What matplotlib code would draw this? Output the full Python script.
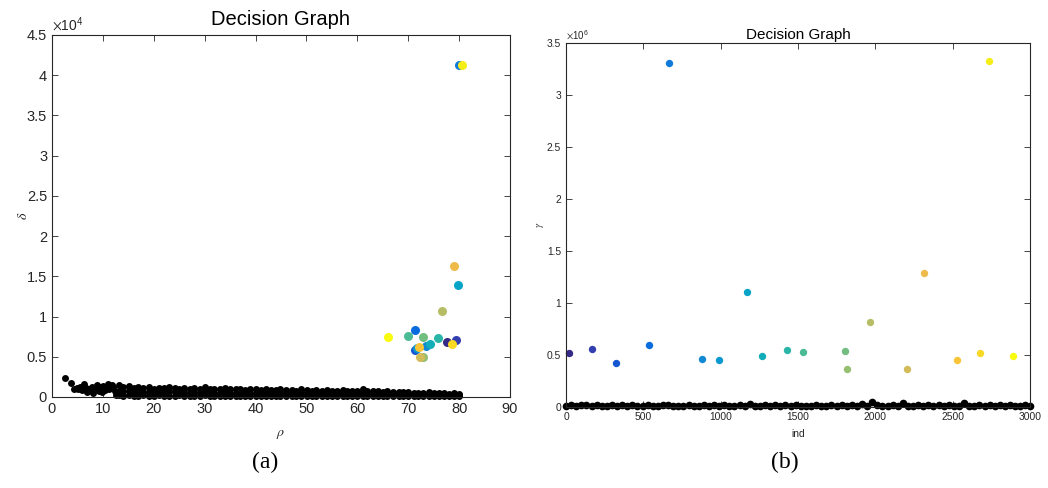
import numpy as np
import matplotlib
matplotlib.use("Agg")
from matplotlib import pyplot as plt
from matplotlib.colors import LinearSegmentedColormap

plt.rcParams['font.family'] = ['Liberation Sans', 'DejaVu Sans']
plt.rcParams['mathtext.fontset'] = 'stix'

# cluster centres, in cluster order (same order in both panels)
rho_c = [77.6, 79.4, 71.3, 71.4, 80.0, 73.5, 71.7, 79.8, 74.3, 75.8,
         70.0, 72.9, 72.9, 76.6, 72.3, 79.0, 72.2, 78.6, 80.5, 66.0]
delta_c = [6800, 7050, 5890, 8330, 41250, 6380, 6150, 13890, 6540, 7330,
           7590, 7460, 4980, 10660, 4980, 16330, 6220, 6590, 41250, 7460]
ind_c = [17, 168, 325, 535, 668, 881, 989, 1170, 1269, 1427,
         1530, 1802, 1815, 1966, 2207, 2313, 2530, 2677, 2735, 2890]
gamma_c = [0.522e6, 0.555e6, 0.42e6, 0.593e6, 3.31e6, 0.465e6, 0.449e6, 1.106e6, 0.487e6, 0.551e6,
           0.529e6, 0.541e6, 0.362e6, 0.814e6, 0.362e6, 1.288e6, 0.449e6, 0.516e6, 3.324e6, 0.49e6]

# non-centre points, left panel: sparse head
rho_sp = [2.5, 3.8, 4.3, 4.9, 5.5, 5.9, 6.2, 6.9, 7.2, 7.8,
          8.3, 8.8, 9.2, 9.6, 10.1, 10.5, 11.0, 11.4, 11.8, 12.3,
          12.6, 5.2, 6.6, 8.1, 9.9, 11.2, 12.0]
delta_sp = [2300, 1800, 1000, 1150, 1300, 900, 1600, 650, 1000, 1200,
            1100, 1500, 800, 1200, 1350, 900, 1650, 1200, 1550, 700,
            200, 950, 1100, 500, 600, 1000, 1300]

# dense band, left panel
rho_bg = [13.1, 14.0, 15.2, 16.1, 17.0, 17.9, 19.1, 20.0, 21.1, 22.0,
          23.0, 24.1, 25.0, 25.9, 27.1, 28.0, 29.0, 30.1, 31.0, 31.9,
          33.1, 34.0, 35.0, 36.1, 37.0, 37.9, 39.0, 40.1, 41.0, 42.0,
          43.1, 44.0, 44.9, 46.0, 47.1, 48.0, 49.0, 50.1, 51.0, 51.9,
          53.0, 54.1, 55.0, 56.0, 57.1, 58.0, 58.9, 60.0, 61.1, 62.0,
          63.0, 64.1, 65.0, 65.9, 67.0, 68.1, 69.0, 70.0, 71.1, 72.0,
          72.9, 74.0, 75.1, 76.0, 77.0, 78.1, 79.0, 80.0]
delta_hi = [1450, 1300, 1350, 1150, 1200, 1100, 1250, 1050, 1150, 1100,
            1300, 1150, 1050, 1100, 1000, 1150, 1000, 1200, 1050, 950,
            1000, 1100, 950, 1000, 1050, 900, 950, 1000, 900, 950,
            850, 900, 950, 850, 900, 800, 1000, 850, 800, 900,
            800, 850, 750, 800, 850, 750, 800, 700, 1000, 750,
            700, 750, 650, 700, 650, 600, 650, 600, 550, 550,
            550, 600, 500, 450, 500, 400, 450, 400]
delta_mid = [800, 700, 750, 650, 700, 600, 650, 600, 650, 550,
             700, 600, 550, 600, 550, 650, 500, 600, 550, 500,
             550, 600, 500, 550, 550, 500, 500, 550, 450, 500,
             450, 500, 500, 450, 500, 450, 500, 450, 400, 450,
             400, 450, 400, 450, 400, 400, 450, 350, 450, 400,
             350, 400, 350, 350, 350, 300, 350, 300, 300, 300,
             300, 300, 250, 250, 250, 250, 250, 200]
delta_lo = [200, 150, 250, 150, 150, 200, 150, 150, 200, 150,
            150, 150, 200, 150, 150, 150, 150, 200, 150, 150,
            150, 150, 150, 150, 150, 150, 150, 150, 150, 150,
            150, 150, 150, 150, 150, 150, 150, 150, 150, 150,
            150, 150, 150, 150, 150, 150, 150, 150, 150, 150,
            150, 150, 120, 150, 150, 120, 150, 120, 150, 120,
            120, 150, 120, 120, 150, 120, 120, 150]

# non-centre points, right panel
ind_bg = [0, 33, 66, 99, 132, 165, 198, 231, 264, 297,
          330, 363, 396, 429, 462, 495, 528, 561, 594, 627,
          660, 693, 726, 759, 792, 825, 858, 891, 924, 957,
          990, 1023, 1056, 1089, 1122, 1155, 1188, 1221, 1254, 1287,
          1320, 1353, 1386, 1419, 1452, 1485, 1518, 1551, 1584, 1617,
          1650, 1683, 1716, 1749, 1782, 1815, 1848, 1881, 1914, 1947,
          1980, 2013, 2046, 2079, 2112, 2145, 2178, 2211, 2244, 2277,
          2310, 2343, 2376, 2409, 2442, 2475, 2508, 2541, 2574, 2607,
          2640, 2673, 2706, 2739, 2772, 2805, 2838, 2871, 2904, 2937,
          2970, 3000]
gamma_bg = [12000, 20000, 9000, 15000, 22000, 10000, 18000, 8000, 14000, 20000,
            11000, 17000, 9000, 21000, 13000, 10000, 19000, 12000, 8000, 16000,
            22000, 11000, 14000, 9000, 18000, 13000, 10000, 20000, 12000, 15000,
            9000, 17000, 11000, 14000, 21000, 10000, 30000, 13000, 9000, 16000,
            12000, 19000, 10000, 15000, 11000, 22000, 9000, 14000, 12000, 17000,
            10000, 13000, 20000, 9000, 15000, 11000, 18000, 12000, 24000, 10000,
            45000, 16000, 11000, 14000, 20000, 9000, 35000, 13000, 10000, 18000,
            12000, 15000, 9000, 19000, 11000, 16000, 13000, 10000, 38000, 14000,
            12000, 20000, 9000, 15000, 11000, 17000, 10000, 21000, 13000, 9000,
            16000, 12000]

# old MATLAB parula, every 4th entry
parula = LinearSegmentedColormap.from_list('parula', [
    (0.2081, 0.1663, 0.5292), (0.1959, 0.2645, 0.7279), (0.0117, 0.3875, 0.8820),
    (0.0498, 0.4586, 0.8641), (0.0793, 0.5200, 0.8312), (0.0343, 0.5966, 0.8199),
    (0.0228, 0.6535, 0.7768), (0.0843, 0.6928, 0.7062), (0.2178, 0.7250, 0.6193),
    (0.3953, 0.7459, 0.5244), (0.5709, 0.7485, 0.4494), (0.7184, 0.7411, 0.3905),
    (0.8507, 0.7299, 0.3360), (0.9739, 0.7314, 0.2666), (0.9880, 0.8066, 0.1794),
    (0.9599, 0.9218, 0.0948), (0.9763, 0.9831, 0.0538)])
ncl = len(rho_c)
cols = [parula(i / (ncl - 1)) for i in range(ncl)]

fig = plt.figure(figsize=(10.48, 4.88), dpi=100)
ax1 = fig.add_axes([0.0496, 0.1865, 0.4370, 0.7418])
ax2 = fig.add_axes([0.5401, 0.1660, 0.4427, 0.7459])

edge = (0.15, 0.15, 0.15)

def style(ax, fs, yt, scale, expo):
    ax.tick_params(direction='in', top=True, right=True, labelsize=fs,
                   colors=edge, length=4, width=0.6)
    for s in ax.spines.values():
        s.set_color(edge)
        s.set_linewidth(0.8)
    ax.set_yticks(yt)
    ax.set_yticklabels(['%g' % (v / scale) for v in yt])
    ax.text(0.0, 1.004, r'$\times\mathregular{10^{%d}}$' % expo, transform=ax.transAxes,
            ha='left', va='bottom', fontsize=fs * 0.95, color=edge)

# left: decision graph rho / delta
ax1.plot(rho_sp, delta_sp, 'o', color='k', ms=5, mec='none', clip_on=False)
ax1.plot(rho_bg, delta_hi, 'o', color='k', ms=5, mec='none', clip_on=False)
ax1.plot(rho_bg, delta_mid, 'o', color='k', ms=5, mec='none', clip_on=False)
ax1.plot(rho_bg, delta_lo, 'o', color='k', ms=5, mec='none', clip_on=False)
for i in range(ncl):
    ax1.plot(rho_c[i], delta_c[i], 'o', color=cols[i], ms=6.5, mec='none', clip_on=False)
ax1.set_xlim(0, 90)
ax1.set_ylim(0, 45000)
ax1.set_xticks(np.arange(0, 91, 10))
style(ax1, 10.5, np.arange(0, 45001, 5000), 1e4, 4)
ax1.set_title('Decision Graph', fontsize=14.5, pad=7)
ax1.set_xlabel(r'$\rho$', fontsize=10, color=edge, labelpad=8)
ax1.set_ylabel(r'$\delta$', fontsize=10, color=edge, labelpad=-2)

# right: gamma sorted
ax2.plot(ind_bg, gamma_bg, 'o', color='k', ms=5.5, mec='none', clip_on=False)
for i in range(ncl):
    ax2.plot(ind_c[i], gamma_c[i], 'o', color=cols[i], ms=5.3, mec='none', clip_on=False)
ax2.set_xlim(0, 3000)
ax2.set_ylim(0, 3.5e6)
ax2.set_xticks(np.arange(0, 3001, 500))
style(ax2, 7.4, np.arange(0, 3.5e6 + 1, 0.5e6), 1e6, 6)
ax2.set_title('Decision Graph', fontsize=11, pad=3)
ax2.set_xlabel('ind', fontsize=7.4, color=edge, labelpad=5)
ax2.set_ylabel(r'$\gamma$', fontsize=7.4, color=edge, labelpad=1)

fig.text(0.253, 0.053, '(a)', fontsize=17, family=['Liberation Serif', 'DejaVu Serif'],
         ha='center', va='center')
fig.text(0.749, 0.053, '(b)', fontsize=17, family=['Liberation Serif', 'DejaVu Serif'],
         ha='center', va='center')

fig.savefig('out.png', dpi=100)
